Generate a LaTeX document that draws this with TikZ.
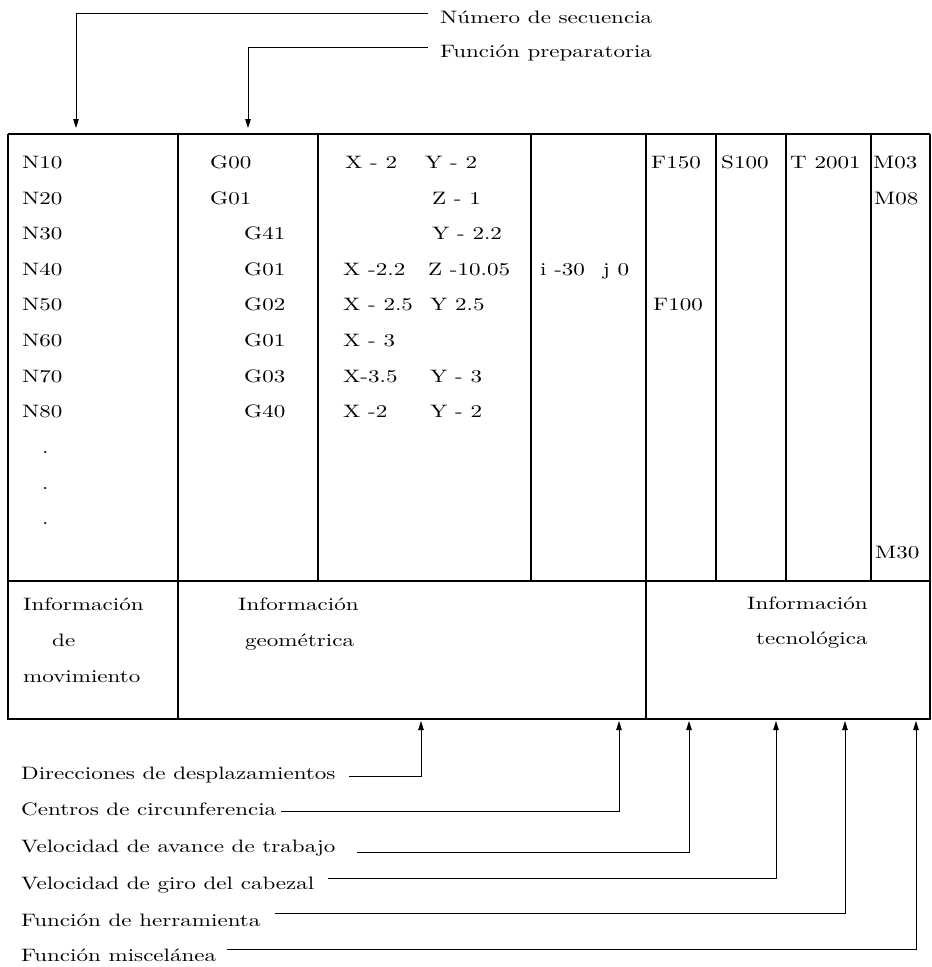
\documentclass[tikz,border=0pt]{standalone}
\usepackage{fontspec}
\setmainfont{lmroman10-regular.otf}[FakeStretch=1.28]
\usetikzlibrary{arrows.meta}
\begin{document}
\begin{tikzpicture}[x=1pt,y=-1pt,
  font=\fontsize{18}{22}\selectfont,
  ln/.style={line width=1.2pt},
  arr/.style={line width=0.9pt,-{Triangle[length=9pt,width=5.5pt]}},
  lbl/.style={anchor=west,inner sep=0pt,text height=12pt,text depth=4pt},
  cell/.style={anchor=west,inner sep=0pt,text height=12pt,text depth=4pt}]
\useasboundingbox (0,0) rectangle (932,967);

% ---- table frame
\draw[ln] (8,134) -- (930,134);
\draw[ln] (8,134) -- (8,719) -- (930,719) -- (930,134);
\draw[ln] (8,581) -- (930,581);
\draw[ln] (178,134) -- (178,719);
\draw[ln] (646,134) -- (646,719);
\foreach \xx in {318,531,716,786,871} \draw[ln] (\xx,134) -- (\xx,581);

% ---- table content
\node[cell] (n10) at (22,164) {N10};
\node[cell] (n20) at (22,200) {N20};
\node[cell] (n30) at (22,235) {N30};
\node[cell] (n40) at (22,271) {N40};
\node[cell] (n50) at (22,306) {N50};
\node[cell] (n60) at (22,342) {N60};
\node[cell] (n70) at (22,378) {N70};
\node[cell] (n80) at (22,413) {N80};
\node[cell] (p1) at (42,449) {.};
\node[cell] (p2) at (42,485) {.};
\node[cell] (p3) at (42,520) {.};

\node[cell] (g1) at (210,164) {G00};
\node[cell] (g2) at (210,200) {G01};
\node[cell] (g3) at (244,235) {G41};
\node[cell] (g4) at (244,271) {G01};
\node[cell] (g5) at (244,306) {G02};
\node[cell] (g6) at (244,342) {G01};
\node[cell] (g7) at (244,378) {G03};
\node[cell] (g8) at (244,413) {G40};

\node[cell] (x1) at (345,164) {X - 2};
\node[cell] (y1) at (425,164) {Y - 2};
\node[cell] (z2) at (432,200) {Z - 1};
\node[cell] (y3) at (432,235) {Y - 2.2};
\node[cell] (x4) at (343,271) {X -2.2};
\node[cell] (z4) at (428,271) {Z -10.05};
\node[cell] (ij4) at (540,271) {i -30\hspace{18pt}j 0};
\node[cell] (x5) at (343,306) {X - 2.5};
\node[cell] (y5) at (430,306) {Y 2.5};
\node[cell] (x6) at (343,342) {X - 3};
\node[cell] (x7) at (343,378) {X-3.5};
\node[cell] (y7) at (430,378) {Y - 3};
\node[cell] (x8) at (343,413) {X -2};
\node[cell] (y8) at (430,413) {Y - 2};

\node[cell] (f1) at (651,164) {F150};
\node[cell] (f5) at (653,306) {F100};
\node[cell] (s1) at (721,164) {S100};
\node[cell] (t1) at (790,164) {T 2001};
\node[cell] (m1) at (873,164) {M03};
\node[cell] (m2) at (874,200) {M08};
\node[cell] (m3) at (875,554) {M30};

% ---- lower row
\node[cell] (im1) at (23,606) {Información};
\node[cell] (im2) at (52,642) {de};
\node[cell] (im3) at (23,678) {movimiento};
\node[cell] (ig1) at (238,606) {Información};
\node[cell] (ig2) at (245,642) {geométrica};
\node[cell] (it1) at (747,605) {Información};
\node[cell] (it2) at (756,640) {tecnológica};

% ---- top labels
\node[lbl] (num) at (440,19) {Número de secuencia};
\node[lbl] (fun) at (440,53) {Función preparatoria};
\coordinate (ta) at (76,128);
\coordinate (tb) at (248,128);
\coordinate (na) at (428,13);
\coordinate (fa) at (428,47);
\draw[arr] (na) -| (ta);
\draw[arr] (fa) -| (tb);

% ---- bottom labels
\node[lbl] (b1) at (21,775) {Direcciones de desplazamientos};
\node[lbl] (b2) at (21,811) {Centros de circunferencia};
\node[lbl] (b3) at (21,848) {Velocidad de avance de trabajo};
\node[lbl] (b4) at (21,885) {Velocidad de giro del cabezal};
\node[lbl] (b5) at (21,922) {Función de herramienta};
\node[lbl] (b6) at (21,957) {Función miscelánea};

\coordinate (u1) at (421,721);
\coordinate (u2) at (619,721);
\coordinate (u3) at (689,721);
\coordinate (u4) at (776,721);
\coordinate (u5) at (845,721);
\coordinate (u6) at (916,721);

\coordinate (c1) at (349,776);
\coordinate (c2) at (281,811);
\coordinate (c3) at (357,852);
\coordinate (c4) at (328,878);
\coordinate (c5) at (275,913);
\coordinate (c6) at (227,949);

\draw[arr] (c1) -| (u1);
\draw[arr] (c2) -| (u2);
\draw[arr] (c3) -| (u3);
\draw[arr] (c4) -| (u4);
\draw[arr] (c5) -| (u5);
\draw[arr] (c6) -| (u6);
\end{tikzpicture}
\end{document}
